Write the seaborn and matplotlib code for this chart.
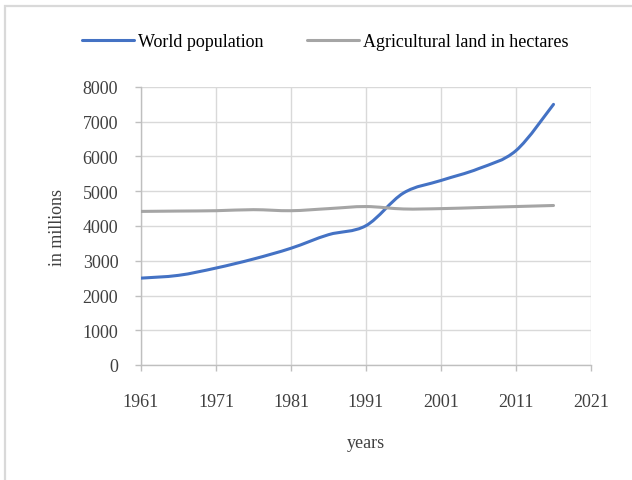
import numpy as np
import pandas as pd
import matplotlib
matplotlib.use("Agg")
import matplotlib.pyplot as plt
import seaborn as sns
from matplotlib.path import Path
from matplotlib.patches import PathPatch, Rectangle

# Values in millions, sampled every five years
years = [1961, 1966, 1971, 1976, 1981, 1986, 1991, 1996, 2001, 2006, 2011, 2016]
world_population = [2500, 2580, 2790, 3050, 3360, 3750, 4010, 4950, 5310, 5650, 6170, 7500]
agricultural_land = [4420, 4430, 4440, 4470, 4440, 4500, 4560, 4490, 4500, 4530, 4560, 4590]
series_names = ["World population", "Agricultural land in hectares"]
series_colors = ["#4472C4", "#A5A5A5"]
x_ticks = [1961, 1971, 1981, 1991, 2001, 2011, 2021]
y_ticks = [0, 1000, 2000, 3000, 4000, 5000, 6000, 7000, 8000]

sns.set_theme(style="white")
plt.rcParams["font.family"] = ["Liberation Serif", "DejaVu Serif"]

df = pd.DataFrame({
    "year": years * 2,
    "value": world_population + agricultural_land,
    "series": [series_names[0]] * len(years) + [series_names[1]] * len(years),
})

W, H = 632, 481
fig = plt.figure(figsize=(W / 100, H / 100), dpi=100)
ax = fig.add_axes([141 / W, 1 - 366 / H, 450 / W, 278 / H])

LW = 2.2
sns.lineplot(data=df, x="year", y="value", hue="series", hue_order=series_names,
             palette=series_colors, linewidth=LW, ax=ax)


def smooth_path(x, y):
    """Cubic Bezier path through the points (Catmull-Rom style tangents)."""
    pts = np.column_stack([x, y]).astype(float)
    n = len(pts)
    verts = [pts[0]]
    codes = [Path.MOVETO]
    for i in range(n - 1):
        p0 = pts[i - 1] if i > 0 else pts[i]
        p1 = pts[i]
        p2 = pts[i + 1]
        p3 = pts[i + 2] if i + 2 < n else pts[i + 1]
        c1 = p1 + (p2 - p0) / 6.0
        c2 = p2 - (p3 - p1) / 6.0
        verts += [c1, c2, p2]
        codes += [Path.CURVE4] * 3
    return Path(verts, codes)


# Replace the straight segments with smoothed curves
for line in list(ax.lines):
    xd, yd = line.get_data()
    if len(xd) < 2:
        continue
    ax.add_patch(PathPatch(smooth_path(xd, yd), fill=False, edgecolor=line.get_color(),
                           linewidth=LW, capstyle="round", joinstyle="round", zorder=3))
    line.set_visible(False)

ax.set_xlim(1961, 2021)
ax.set_ylim(0, 8000)
ax.set_xticks(x_ticks)
ax.set_yticks(y_ticks)
ax.grid(True, color="#D9D9D9", linewidth=1.0)
ax.set_axisbelow(True)
for side in ["top", "right"]:
    ax.spines[side].set_visible(False)
for side in ["left", "bottom"]:
    ax.spines[side].set_color("#BFBFBF")
    ax.spines[side].set_linewidth(1.0)
ax.tick_params(axis="both", which="major", direction="out", length=4.3, width=1.0,
               color="#BFBFBF", labelsize=13, labelcolor="#404040", left=True, bottom=True)
ax.tick_params(axis="y", pad=12)
ax.tick_params(axis="x", pad=16)

ax.set_xlabel("years", fontsize=13, color="#404040", labelpad=17)
ax.set_ylabel("in millions", fontsize=13, color="#404040", labelpad=12)

sns.move_legend(ax, "center", bbox_to_anchor=((325 - 141) / 450, (366 - 43) / 278),
                ncol=2, frameon=False, title=None, fontsize=13, handlelength=2.9,
                handletextpad=0.2, columnspacing=2.4)
leg = ax.get_legend()
for h in leg.legend_handles:
    h.set_linewidth(LW)
for t in leg.get_texts():
    t.set_color("#000000")

# Light frame around the chart area
fig.patches.append(Rectangle((5 / W, -0.5), 1.5, 1 - 7 / H + 0.5, transform=fig.transFigure,
                             fill=False, edgecolor="#D9D9D9", linewidth=1.6))

fig.savefig("out.png", dpi=100)
